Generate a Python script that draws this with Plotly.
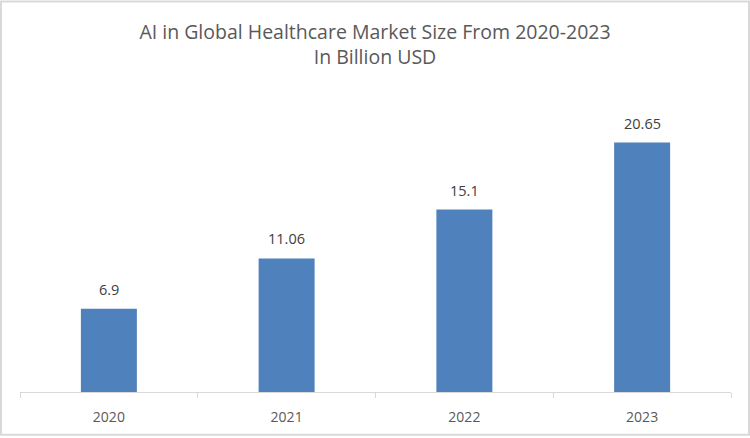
import plotly.graph_objects as go

years = ["2020", "2021", "2022", "2023"]
values = [6.9, 11.06, 15.1, 20.65]
labels = ["6.9", "11.06", "15.1", "20.65"]

W, H = 750, 438
ml, mr, mt, mb = 20, 19, 90, 44

fig = go.Figure(go.Bar(
    x=years, y=values,
    marker=dict(color="#4F81BD", line=dict(width=0)),
))

# category index positions for the labels
for i, (v, lab) in enumerate(zip(values, labels)):
    fig.add_annotation(x=i, y=v, text=lab, showarrow=False,
                       xanchor="center", yanchor="bottom", yshift=8,
                       font=dict(family="Open Sans", size=14.5, color="#404040"))

pw, ph = W - ml - mr, H - mt - mb
fig.add_shape(type="rect", xref="paper", yref="paper",
              x0=(-ml + 1) / pw, x1=1 + (mr - 1) / pw,
              y0=(-mb + 1) / ph, y1=1 + (mt - 1) / ph,
              line=dict(color="#D9D9D9", width=2), fillcolor="rgba(0,0,0,0)")

fig.update_layout(
    width=W, height=H,
    margin=dict(l=ml, r=mr, t=mt, b=mb),
    paper_bgcolor="white", plot_bgcolor="white",
    bargap=0.685,
    showlegend=False,
    title=dict(text="AI in Global Healthcare Market Size From 2020-2023<br>In Billion USD",
               x=0.5, xanchor="center", y=0.911, yanchor="top",
               font=dict(family="Open Sans", size=19.5, color="#595959")),
    xaxis=dict(type="category", categoryorder="array", categoryarray=years,
               range=[-0.5, len(years) - 0.5],
               showline=True, linecolor="#D9D9D9", linewidth=1,
               ticks="outside", tickson="boundaries", ticklen=5, tickcolor="#D9D9D9",
               ticklabelstandoff=12,
               tickfont=dict(family="Open Sans", size=14, color="#595959"),
               showgrid=False, zeroline=False),
    yaxis=dict(range=[0, 25], visible=False, showgrid=False, zeroline=False),
)

fig.write_html("out.html", config={"displayModeBar": False},
               post_script="document.body.style.margin='0';")
